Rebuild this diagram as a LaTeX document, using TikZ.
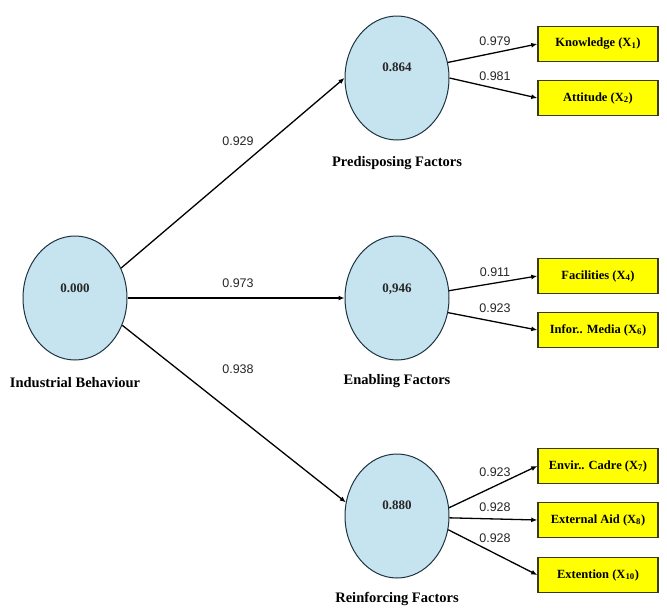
\documentclass[tikz,border=0pt]{standalone}
\usepackage{fontspec}
\setmainfont{Liberation Serif}
\newfontfamily\coeffont{Liberation Sans}
\usetikzlibrary{arrows.meta,shapes.geometric}
\definecolor{latfill}{HTML}{C6E4F0}
\definecolor{latdraw}{HTML}{1E3340}
\definecolor{boxfill}{HTML}{FFFF00}
\definecolor{boxdraw}{HTML}{3A3A1A}
\tikzset{
  latent/.style={ellipse,draw=latdraw,line width=1pt,fill=latfill,minimum width=104pt,minimum height=124pt,inner sep=0pt},
  latval/.style={font=\bfseries\fontsize{13}{15}\selectfont,text=black!85},
  latname/.style={font=\bfseries\fontsize{14.5}{16}\selectfont},
  indic/.style={rectangle,draw=boxdraw,line width=1.5pt,fill=boxfill,minimum width=120pt,minimum height=35pt,inner sep=0pt,font=\bfseries\fontsize{12.5}{14}\selectfont},
  coef/.style={font=\coeffont\fontsize{12.5}{14}\selectfont,text=black!85,inner sep=0pt},
  path/.style={line width=1.3pt,-{Latex[length=6pt,width=5pt]}}
}
\begin{document}
\begin{tikzpicture}[x=1pt,y=-1pt]
\useasboundingbox[fill=white] (0,0) rectangle (667,608);
% latent variables
\node[latent] (I) at (75,298) {};
\node[latent] (P) at (397,78) {};
\node[latent] (E) at (397,298) {};
\node[latent] (R) at (397,516) {};
\node[latval] (Iv) at (75,288) {0.000};
\node[latval] (Pv) at (397,67) {0.864};
\node[latval] (Ev) at (397,289) {0,946};
\node[latval] (Rv) at (397,505) {0.880};
\node[latname] (In) at (75,383) {Industrial Behaviour};
\node[latname] (Pn) at (397,163) {Predisposing Factors};
\node[latname] (En) at (397,381) {Enabling Factors};
\node[latname] (Rn) at (397,599) {Reinforcing Factors};
% indicators
\node[indic] (K) at (598,44) {Knowledge (X\textsubscript{1})};
\node[indic] (A) at (598,98) {Attitude (X\textsubscript{2})};
\node[indic] (F) at (598,276) {Facilities (X\textsubscript{4})};
\node[indic] (M) at (598,330) {Infor.. Media (X\textsubscript{6})};
\node[indic] (C) at (598,466) {Envir.. Cadre (X\textsubscript{7})};
\node[indic] (X) at (598,520) {External Aid (X\textsubscript{8})};
\node[indic] (T) at (598,575) {Extention (X\textsubscript{10})};
% structural paths
\draw[path] (I.33) -- (P.west);
\draw[path] (I.east) -- (E.west);
\draw[path] (I.-30) -- (R.165);
% outer paths
\draw[path] (P.17) -- (K.west);
\draw[path] (P.0) -- (A.west);
\draw[path] (E.8) -- (F.west);
\draw[path] (E.-16) -- (M.west);
\draw[path] (R.9) -- (C.west);
\draw[path] (R.-2) -- (X.west);
\draw[path] (R.-15) -- (T.west);
% coefficients
\node[coef] (c1) at (238,141) {0.929};
\node[coef] (c2) at (238,283) {0.973};
\node[coef] (c3) at (238,369) {0.938};
\node[coef] (c4) at (495,41) {0.979};
\node[coef] (c5) at (495,76) {0.981};
\node[coef] (c6) at (495,272) {0.911};
\node[coef] (c7) at (495,308) {0.923};
\node[coef] (c8) at (495,472) {0.923};
\node[coef] (c9) at (495,507) {0.928};
\node[coef] (c10) at (495,538) {0.928};
\end{tikzpicture}
\end{document}
